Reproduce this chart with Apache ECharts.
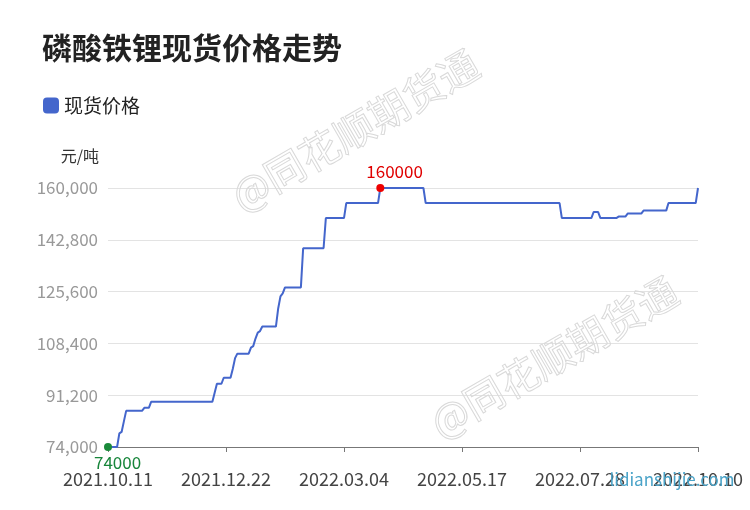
<!DOCTYPE html>
<html>
<head>
<meta charset="utf-8">
<script src="https://cdn.jsdelivr.net/npm/echarts@6/dist/echarts.min.js"></script>
<style>
html,body{margin:0;padding:0;background:#fff;}
#chart{width:750px;height:510px;}
</style>
</head>
<body>
<div id="chart"></div>
<script>
// Category dates (weekdays), grouped by month
const monthDays = [
  ['2021.10', [11,12,13,14,15,18,19,20,21,22,25,26,27,28,29]],
  ['2021.11', [1,2,3,4,5,8,9,10,11,12,15,16,17,18,19,22,23,24,25,26,29,30]],
  ['2021.12', [1,2,3,6,7,8,9,10,13,14,15,16,17,20,21,22,23,24,27,28,29,30,31]],
  ['2022.01', [3,4,5,6,7,10,11,12,13,14,17,18,19,20,21,24,25,26,27,28,31]],
  ['2022.02', [1,2,3,4,7,8,9,10,11,14,15,16,17,18,21,22,23,24,25,28]],
  ['2022.03', [1,2,3,4,7,8,9,10,11,14,15,16,17,18,21,22,23,24,25,28,29,30,31]],
  ['2022.04', [1,4,5,6,7,8,11,12,13,14,15,18,19,20,21,22,25,26,27,28,29]],
  ['2022.05', [2,3,4,5,6,9,10,11,12,13,16,17,18,19,20,23,24,25,26,27,30,31]],
  ['2022.06', [1,2,3,6,7,8,9,10,13,14,15,16,17,20,21,22,23,24,27,28,29,30]],
  ['2022.07', [1,4,5,6,7,8,11,12,13,14,15,18,19,20,21,22,25,26,27,28,29]],
  ['2022.08', [1,2,3,4,5,8,9,10,11,12,15,16,17,18,19,22,23,24,25,26,29,30,31]],
  ['2022.09', [1,2,5,6,7,8,9,12,13,14,15,16,19,20,21,22,23,26,27,28,29,30]],
  ['2022.10', [3,4,5,6,7,10]]
];

// Spot price values (元/吨), one per category, grouped by month
const price2021_10 = [74000,74000,74000,74000,74000,78500,79000,82500,86000,86000,86000,86000,86000,86000,86000];
const price2021_11 = [86000,87000,87000,87000,89000,89000,89000,89000,89000,89000,89000,89000,89000,89000,89000,89000,89000,89000,89000,89000,89000,89000];
const price2021_12 = [89000,89000,89000,89000,89000,89000,89000,89000,89000,89000,92000,95000,95000,95000,97000,97000,97000,97000,100000,103500,105000,105000,105000];
const price2022_01 = [105000,105000,105000,107000,107500,110000,112000,112500,114000,114000,114000,114000,114000,114000,114000,120000,124000,125000,127000,127000,127000];
const price2022_02 = [127000,127000,127000,127000,127000,140000,140000,140000,140000,140000,140000,140000,140000,140000,140000,150000,150000,150000,150000,150000];
const price2022_03 = [150000,150000,150000,150000,155000,155000,155000,155000,155000,155000,155000,155000,155000,155000,155000,155000,155000,155000,155000,160000,160000,160000,160000];
const price2022_04 = [160000,160000,160000,160000,160000,160000,160000,160000,160000,160000,160000,160000,160000,160000,160000,160000,155000,155000,155000,155000,155000];
const price2022_05 = [155000,155000,155000,155000,155000,155000,155000,155000,155000,155000,155000,155000,155000,155000,155000,155000,155000,155000,155000,155000,155000,155000];
const price2022_06 = [155000,155000,155000,155000,155000,155000,155000,155000,155000,155000,155000,155000,155000,155000,155000,155000,155000,155000,155000,155000,155000,155000];
const price2022_07 = [155000,155000,155000,155000,155000,155000,155000,155000,155000,155000,155000,150000,150000,150000,150000,150000,150000,150000,150000,150000,150000];
const price2022_08 = [150000,150000,150000,150000,152000,152000,152000,150000,150000,150000,150000,150000,150000,150000,150000,150500,150500,150500,150500,151500,151500,151500,151500];
const price2022_09 = [151500,151500,151500,152500,152500,152500,152500,152500,152500,152500,152500,152500,152500,152500,155000,155000,155000,155000,155000,155000,155000,155000];
const price2022_10 = [155000,155000,155000,155000,155000,160000];

// Y-axis tick values
const yTicks = [74000, 91200, 108400, 125600, 142800, 160000];

const categories = [];
monthDays.forEach(([m, days]) => days.forEach(d => categories.push(m + '.' + String(d).padStart(2, '0'))));
const prices = [].concat(price2021_10, price2021_11, price2021_12, price2022_01, price2022_02,
  price2022_03, price2022_04, price2022_05, price2022_06, price2022_07, price2022_08, price2022_09, price2022_10);

const FONT = '"Noto Sans CJK SC", "Noto Sans", sans-serif';
const chart = echarts.init(document.getElementById('chart'), null, {renderer: 'canvas'});
chart.setOption({
  animation: false,
  backgroundColor: '#ffffff',
  textStyle: {fontFamily: FONT},
  title: {
    text: '磷酸铁锂现货价格走势',
    left: 37, top: 28,
    textStyle: {fontSize: 30, fontWeight: 'bold', color: '#222', fontFamily: FONT}
  },
  legend: {
    left: 38, top: 91,
    icon: 'roundRect',
    itemWidth: 16, itemHeight: 16, itemGap: 10,
    textStyle: {fontSize: 19, color: '#222', fontFamily: FONT},
    data: ['现货价格']
  },
  grid: {left: 108, right: 52, top: 188, bottom: 63, containLabel: false},
  xAxis: {
    type: 'category',
    data: categories,
    boundaryGap: false,
    axisLine: {lineStyle: {color: '#777', width: 1}},
    axisTick: {show: true, interval: 51, length: 5, lineStyle: {color: '#777'}},
    axisLabel: {interval: 51, fontSize: 18, color: '#444', margin: 23, fontFamily: FONT},
    splitLine: {show: false}
  },
  yAxis: {
    type: 'value',
    min: yTicks[0],
    max: yTicks[yTicks.length - 1],
    interval: yTicks[1] - yTicks[0],
    name: '元/吨',
    nameLocation: 'end',
    nameGap: 24,
    nameTextStyle: {fontSize: 16, color: '#333', align: 'right', padding: [0, 9, 0, 0], fontFamily: FONT},
    axisLine: {show: false},
    axisTick: {show: false},
    axisLabel: {fontSize: 17, color: '#999', margin: 10, fontFamily: FONT,
      formatter: v => v.toLocaleString('en-US')},
    splitLine: {lineStyle: {color: '#e3e3e3', width: 1}}
  },
  graphic: [
    {type: 'text', x: 355, y: 130, rotation: Math.PI / 6, z: 100, silent: true,
      style: {text: '@同花顺期货通', font: '40px ' + FONT, fill: 'rgba(0,0,0,0)', stroke: '#d9d9d9', lineWidth: 1, align: 'center', verticalAlign: 'middle'}},
    {type: 'text', x: 554, y: 357, rotation: Math.PI / 6, z: 100, silent: true,
      style: {text: '@同花顺期货通', font: '40px ' + FONT, fill: 'rgba(0,0,0,0)', stroke: '#d9d9d9', lineWidth: 1, align: 'center', verticalAlign: 'middle'}},
    {type: 'text', x: 672, y: 480, z: 100, silent: true,
      style: {text: 'lidianshijie.com', font: '17px ' + FONT, fill: '#4aa3c8', align: 'center', verticalAlign: 'middle'}}
  ],
  series: [{
    name: '现货价格',
    type: 'line',
    data: prices,
    showSymbol: false,
    color: '#4466cc',
    lineStyle: {width: 2, color: '#4466cc'},
    markPoint: {
      symbol: 'circle',
      symbolSize: 8,
      data: [
        {type: 'max', itemStyle: {color: '#ee0000'},
          label: {show: true, position: 'top', distance: 4, align: 'left', offset: [-14, 0], color: '#e00000', fontSize: 17, formatter: p => String(p.value)}},
        {type: 'min', itemStyle: {color: '#1a8a3a'},
          label: {show: true, position: 'bottom', distance: 3, align: 'left', offset: [-14, 0], color: '#17853a', fontSize: 17, formatter: p => String(p.value)}}
      ]
    }
  }]
});
</script>
</body>
</html>
